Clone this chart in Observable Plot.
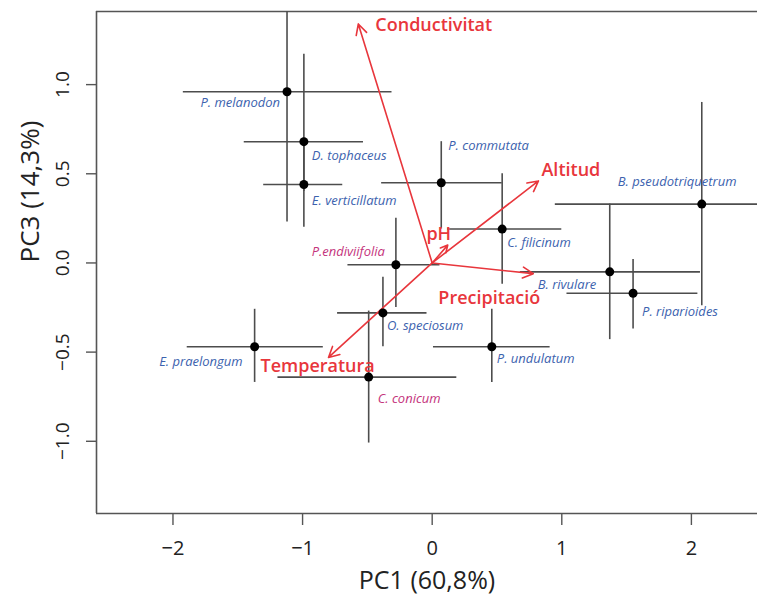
<!DOCTYPE html>
<html>
<head>
<meta charset="utf-8">
<script src="https://cdn.jsdelivr.net/npm/d3@7"></script>
<script src="https://cdn.jsdelivr.net/npm/@observablehq/plot@0.6"></script>
<style>
  html, body { margin: 0; padding: 0; background: #fff; }
  #chart svg { display: block; }
</style>
</head>
<body>
<div id="chart"></div>
<script>
// ---- data ----
const species = ["P. melanodon", "D. tophaceus", "E. verticillatum", "P. commutata", "C. filicinum",
  "B. pseudotriquetrum", "B. rivulare", "P. riparioides", "P. undulatum", "P.endiviifolia",
  "O. speciosum", "E. praelongum", "C. conicum"];
const pc1 =     [-1.12, -0.99, -0.99,  0.07,  0.54,  2.08,  1.37,  1.55,  0.46, -0.28, -0.38, -1.37, -0.49];
const pc3 =     [ 0.96,  0.68,  0.44,  0.45,  0.19,  0.33, -0.05, -0.17, -0.47, -0.01, -0.28, -0.47, -0.64];
const pc1Low =  [-1.92, -1.45, -1.30, -0.39,  0.12,  0.95,  0.68,  1.04,  0.01, -0.65, -0.73, -1.89, -1.19];
const pc1High = [-0.31, -0.53, -0.69,  0.54,  1.00,  3.20,  2.07,  2.05,  0.91,  0.06, -0.04, -0.84,  0.19];
const pc3Low =  [ 0.23,  0.40,  0.20,  0.19, -0.12, -0.24, -0.43, -0.37, -0.67, -0.25, -0.47, -0.67, -1.01];
const pc3High = [ 1.60,  1.17,  0.68,  0.68,  0.50,  0.90,  0.33,  0.02, -0.26,  0.25, -0.08, -0.26, -0.27];
const magentaSpecies = ["P.endiviifolia", "C. conicum"];

const variables = ["Conductivitat", "Altitud", "pH", "Precipitació", "Temperatura"];
const loadPC1 = [-0.57, 0.82, 0.12, 0.78, -0.80];
const loadPC3 = [ 1.34, 0.46, 0.10, -0.06, -0.53];

const xTicks = [-2, -1, 0, 1, 2];
const yTicks = [-1.0, -0.5, 0.0, 0.5, 1.0];
const xTitle = "PC1 (60,8%)";
const yTitle = "PC3 (14,3%)";

// ---- label placement (styling) ----
const speciesLabelStyle = {
  "P. melanodon": [-7, 11, "end"],
  "D. tophaceus": [8, 14, "start"],
  "E. verticillatum": [8, 16, "start"],
  "P. commutata": [7, -37, "start"],
  "C. filicinum": [5, 14, "start"],
  "B. pseudotriquetrum": [-84, -22, "start"],
  "B. rivulare": [-72, 13, "start"],
  "P. riparioides": [9, 19, "start"],
  "P. undulatum": [5, 12, "start"],
  "P.endiviifolia": [-11, -13, "end"],
  "O. speciosum": [4, 13, "start"],
  "E. praelongum": [-12, 15, "end"],
  "C. conicum": [9, 22, "start"]
};
const variableLabelStyle = {
  "Conductivitat": [17, 1, "start"],
  "Altitud": [3, -11, "start"],
  "pH": [-9, -11, "middle"],
  "Precipitació": [7, 25, "end"],
  "Temperatura": [-68, 9, "start"]
};

const pts = species.map((s, i) => ({
  name: s, x: pc1[i], y: pc3[i], xlo: pc1Low[i], xhi: pc1High[i], ylo: pc3Low[i], yhi: pc3High[i],
  color: magentaSpecies.includes(s) ? "#c4337c" : "#3c62ae"
}));
const vecs = variables.map((v, i) => ({name: v, x: loadPC1[i], y: loadPC3[i]}));

const xDomain = [-2.59, 2.51];
const yDomain = [-1.405, 1.41];
const barColor = "#4d4d4d";
const red = "#e8363c";

const labelMarks = [];
for (const p of pts) {
  const [dx, dy, anchor] = speciesLabelStyle[p.name];
  labelMarks.push(Plot.text([p], {x: "x", y: "y", text: "name", dx, dy, textAnchor: anchor,
    fill: p.color, fontSize: 13, fontStyle: "italic", fontFamily: "Open Sans"}));
}
for (const v of vecs) {
  const [dx, dy, anchor] = variableLabelStyle[v.name];
  labelMarks.push(Plot.text([v], {x: "x", y: "y", text: "name", dx, dy, textAnchor: anchor,
    fill: red, fontSize: 18, fontWeight: 600, fontFamily: "Open Sans"}));
}

const chart = Plot.plot({
  width: 757,
  height: 599,
  marginLeft: 96,
  marginRight: 0,
  marginTop: 11,
  marginBottom: 86,
  style: {fontFamily: "Open Sans", background: "#fff"},
  x: {domain: xDomain},
  y: {domain: yDomain},
  marks: [
    Plot.ruleX([xDomain[0]], {stroke: "#555", strokeWidth: 1.6}),
    Plot.ruleY(yDomain, {stroke: "#555", strokeWidth: 1.6}),
    Plot.axisX({ticks: xTicks, tickSize: 12, tickFormat: () => "", label: null, stroke: "#555", strokeWidth: 1.4}),
    Plot.axisY({ticks: yTicks, tickSize: 10, tickFormat: () => "", label: null, stroke: "#555", strokeWidth: 1.4}),
    Plot.text(xTicks, {x: d => d, text: d => d3.format("d")(d), frameAnchor: "bottom", lineAnchor: "middle", dy: 35,
      fontSize: 20, fill: "#222"}),
    Plot.text(yTicks, {y: d => d, text: d => d3.format(".1f")(d), frameAnchor: "left", dx: -34, rotate: -90,
      textAnchor: "middle", fontSize: 19, fill: "#222"}),
    Plot.text([xTitle], {frameAnchor: "bottom", lineAnchor: "middle", dy: 67, fontSize: 25, fill: "#222"}),
    Plot.text([yTitle], {frameAnchor: "left", dx: -66, rotate: -90, fontSize: 26, fill: "#222"}),
    Plot.ruleY(pts, {y: "y", x1: "xlo", x2: "xhi", stroke: barColor, strokeWidth: 1.6, clip: true}),
    Plot.ruleX(pts, {x: "x", y1: "ylo", y2: "yhi", stroke: barColor, strokeWidth: 1.6, clip: true}),
    Plot.arrow(vecs, {x1: d => 0, y1: d => 0, x2: "x", y2: "y", stroke: red, strokeWidth: 1.6, headLength: 11, headAngle: 55}),
    Plot.dot(pts, {x: "x", y: "y", r: 4.5, fill: "#000"}),
    ...labelMarks
  ]
});
document.getElementById("chart").appendChild(chart);
</script>
</body>
</html>
